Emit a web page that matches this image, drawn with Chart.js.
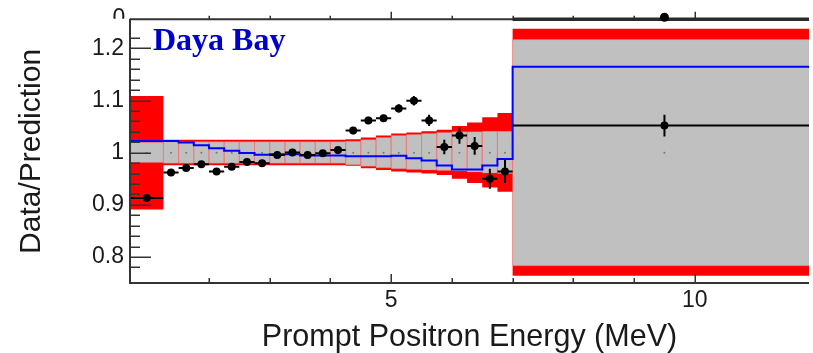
<!DOCTYPE html>
<html><head><meta charset="utf-8">
<script src="https://cdn.jsdelivr.net/npm/chart.js@4.4.1/dist/chart.umd.min.js"></script>
<style>html,body{margin:0;padding:0;background:#fff;overflow:hidden}#wrap{width:813px;height:353px;position:relative}canvas{display:block}</style>
</head><body><div id="wrap"><canvas id="c" width="813" height="353"></canvas></div>
<script>
// ---- data ----
const binEdges = [0.7,1.25,1.5,1.75,2,2.25,2.5,2.75,3,3.25,3.5,3.75,4,4.25,4.5,4.75,5,5.25,5.5,5.75,6,6.25,6.5,6.75,7,12];
const dataRatio = [0.913,0.962,0.9705,0.978,0.964,0.973,0.982,0.980,0.9955,1.0006,0.9955,0.999,1.005,1.0425,1.062,1.066,1.085,1.0996,1.062,1.011,1.033,1.013,0.950,0.964,1.052];
const dataErr   = [0.006,0.005,0.005,0.005,0.005,0.005,0.005,0.005,0.005,0.005,0.005,0.006,0.006,0.007,0.007,0.007,0.008,0.009,0.011,0.014,0.016,0.017,0.019,0.022,0.021];
const altPrediction = [1.0224,1.0224,1.0194,1.0143,1.0087,1.0037,0.9993,0.996,0.997,0.997,0.9945,0.9945,0.9945,0.993,0.993,0.993,0.9943,0.9893,0.985,0.9756,0.968,0.968,0.9756,0.988,1.165];
const outerBandHi = [1.109,1.025,1.025,1.025,1.025,1.025,1.025,1.025,1.025,1.025,1.025,1.025,1.025,1.026,1.029,1.033,1.037,1.039,1.041,1.044,1.051,1.058,1.068,1.076,1.238];
const outerBandLo = [0.891,0.976,0.976,0.976,0.976,0.976,0.976,0.976,0.976,0.976,0.976,0.976,0.976,0.975,0.970,0.967,0.964,0.962,0.960,0.957,0.950,0.942,0.933,0.925,0.764];
const innerBandHi = [1.020,1.021,1.021,1.021,1.021,1.021,1.021,1.021,1.021,1.021,1.021,1.021,1.021,1.022,1.025,1.029,1.033,1.035,1.037,1.039,1.040,1.040,1.041,1.041,1.217];
const innerBandLo = [0.981,0.980,0.980,0.980,0.980,0.980,0.980,0.980,0.980,0.980,0.980,0.980,0.980,0.977,0.974,0.971,0.969,0.968,0.967,0.966,0.965,0.963,0.961,0.960,0.783];
const predictionCenter = 1;
const xTickLabels = [5, 10];
const yTickLabels = [0.8, 0.9, 1, 1.1, 1.2];

// ---- derived structures for the library ----
const centers = binEdges.slice(0, -1).map((e, i) => (e + binEdges[i + 1]) / 2);
function stepped(vals) {
  const pts = vals.map((v, i) => ({x: binEdges[i], y: v}));
  pts.push({x: binEdges[binEdges.length - 1], y: vals[vals.length - 1]});
  return pts;
}
function boxes(lo, hi) {
  const out = [];
  lo.forEach((l, i) => {
    const a = binEdges[i], b = binEdges[i + 1];
    out.push({x: a, y: l}, {x: a, y: hi[i]}, {x: b, y: hi[i]}, {x: b, y: l}, {x: a, y: l}, {x: a, y: null});
  });
  return out;
}
function errorBars() {
  const out = [];
  dataRatio.forEach((v, i) => {
    const c = centers[i];
    out.push({x: binEdges[i], y: v}, {x: binEdges[i + 1], y: v}, {x: c, y: null},
             {x: c, y: v - dataErr[i]}, {x: c, y: v + dataErr[i]}, {x: c, y: null});
  });
  return out;
}

const isMult = (v, s) => Math.abs(v / s - Math.round(v / s)) < 1e-6;

const decor = {
  id: 'decor',
  afterDatasetsDraw(chart) {
    const {ctx, chartArea: {left, right, top, bottom}, scales: {x, y}} = chart;
    ctx.save();
    ctx.strokeStyle = '#333';
    ctx.lineCap = 'butt';
    ctx.lineWidth = 1.5;
    y.ticks.forEach(t => {
      if (!isMult(t.value, 0.02)) return;
      const py = Math.round(y.getPixelForValue(t.value)) + 0.25;
      const len = isMult(t.value, 0.1) ? 21 : 10;
      ctx.beginPath(); ctx.moveTo(left, py); ctx.lineTo(left + len, py); ctx.stroke();
    });
    x.ticks.forEach(t => {
      if (!isMult(t.value, 1)) return;
      const px = Math.round(x.getPixelForValue(t.value)) + 0.25;
      const major = isMult(t.value, 5);
      ctx.beginPath(); ctx.moveTo(px, bottom); ctx.lineTo(px, bottom - (major ? 9 : 5)); ctx.stroke();
      ctx.beginPath(); ctx.moveTo(px, top); ctx.lineTo(px, top - (major ? 8 : 4)); ctx.stroke();
    });
    ctx.lineWidth = 2;
    ctx.beginPath(); ctx.moveTo(left, top - 1); ctx.lineTo(left, bottom); ctx.lineTo(right, bottom); ctx.stroke();
    ctx.beginPath(); ctx.moveTo(left, top - 0.5); ctx.lineTo(right, top - 0.5); ctx.stroke();
    const x7 = x.getPixelForValue(binEdges[binEdges.length - 2]);
    ctx.strokeStyle = '#2a2a2a'; ctx.lineWidth = 3.5;
    ctx.beginPath(); ctx.moveTo(x7, top - 0.5); ctx.lineTo(right, top - 0.5); ctx.stroke();
    ctx.fillStyle = '#000';
    ctx.beginPath(); ctx.arc(x.getPixelForValue(centers[centers.length - 1]), top - 2.5, 4.5, 0, Math.PI * 2); ctx.fill();
    ctx.save();
    ctx.beginPath(); ctx.rect(0, 0, left, top - 1); ctx.clip();
    ctx.fillStyle = '#1a1a1a';
    ctx.font = '23px "Liberation Sans", Arial, sans-serif';
    ctx.textAlign = 'center'; ctx.textBaseline = 'alphabetic';
    ctx.fillText('0', 119, 25);
    ctx.restore();
    ctx.fillStyle = '#0000cc';
    ctx.font = 'bold 32px "Liberation Serif", "Times New Roman", serif';
    ctx.textAlign = 'left'; ctx.textBaseline = 'alphabetic';
    ctx.fillText('Daya Bay', 153, 50);
    ctx.restore();
  }
};

Chart.defaults.font.family = '"Liberation Sans", Arial, sans-serif';
Chart.defaults.color = '#1a1a1a';

new Chart(document.getElementById('c'), {
  type: 'line',
  data: {
    datasets: [
      {data: stepped(outerBandLo), stepped: 'before', borderWidth: 0, pointRadius: 0, fill: false, order: 20},
      {data: stepped(outerBandHi), stepped: 'before', borderWidth: 0, pointRadius: 0, fill: '-1', backgroundColor: '#ff0000', order: 20},
      {data: stepped(innerBandLo), stepped: 'before', borderWidth: 0, pointRadius: 0, fill: false, order: 18},
      {data: stepped(innerBandHi), stepped: 'before', borderWidth: 0, pointRadius: 0, fill: '-1', backgroundColor: '#c0c0c0', order: 18},
      {data: boxes(innerBandLo, innerBandHi), borderColor: 'rgba(255,100,100,0.3)', borderWidth: 1, pointRadius: 0, fill: false, spanGaps: false, order: 16},
      {data: centers.map(c => ({x: c, y: predictionCenter})), showLine: false, pointRadius: 1, pointBackgroundColor: '#777', pointBorderWidth: 0, order: 14},
      {data: stepped(altPrediction), stepped: 'before', borderColor: '#0000ff', borderWidth: 2, pointRadius: 0, fill: false, order: 12},
      {data: errorBars(), borderColor: '#000', borderWidth: 2, pointRadius: 0, fill: false, spanGaps: false, order: 10},
      {data: centers.map((c, i) => ({x: c, y: dataRatio[i]})), showLine: false, pointRadius: 4, pointBackgroundColor: '#000', pointBorderWidth: 0, order: 8}
    ]
  },
  options: {
    responsive: false,
    animation: false,
    events: [],
    layout: {padding: {top: 15, right: 0, left: 0, bottom: 0}},
    plugins: {legend: {display: false}, tooltip: {enabled: false}},
    scales: {
      x: {
        type: 'linear', min: 0.7, max: 11.88,
        grid: {display: false, drawTicks: false},
        border: {display: false},
        ticks: {
          stepSize: 1, autoSkip: false, maxRotation: 0, padding: 4,
          font: {size: 23},
          callback: v => xTickLabels.some(t => Math.abs(t - v) < 1e-6) ? String(v) : ''
        },
        title: {display: true, text: 'Prompt Positron Energy (MeV)', font: {size: 30.5}, padding: {top: 0, bottom: -3}},
        afterFit: s => { s.height = 70; }
      },
      y: {
        min: 0.75, max: 1.255,
        grid: {display: false, drawTicks: false},
        border: {display: false},
        ticks: {
          stepSize: 0.02, autoSkip: false, padding: 6,
          font: {size: 23},
          callback: v => { const m = yTickLabels.find(t => Math.abs(t - v) < 1e-6); return m === undefined ? '' : String(m); }
        },
        title: {display: true, text: 'Data/Prediction', font: {size: 30}, padding: {top: 14, bottom: 0}},
        afterFit: s => { s.width = 130; }
      }
    }
  },
  plugins: [decor]
});
</script>
</body></html>
